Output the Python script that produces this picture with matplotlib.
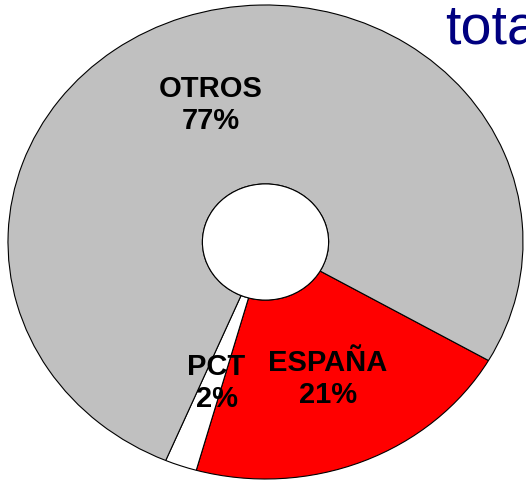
import matplotlib
matplotlib.use("Agg")
import matplotlib.pyplot as plt
from matplotlib.patches import Ellipse

plt.rcParams['font.family'] = ['Liberation Sans', 'DejaVu Sans']

# datos
categorias = ['ESPAÑA', 'PCT', 'OTROS']
porcentajes = [21, 2, 77]
colores = ['#FF0000', '#FFFFFF', '#C0C0C0']
titulo = 'total'

# posiciones de las etiquetas (coords de datos)
pos_etiquetas = [(0.243, -0.578), (-0.190, -0.595), (-0.212, 0.578)]

fig = plt.figure(figsize=(5.26, 4.83), dpi=100)
ax = fig.add_axes([8/526, 4/483, 515/526, 474/483])

hueco = 0.245
ax.pie(porcentajes, colors=colores, startangle=-30, counterclock=False,
       radius=1.0,
       wedgeprops=dict(width=1 - hueco, edgecolor='black', linewidth=0.8))
ax.add_patch(Ellipse((0, 0), 2*hueco, 2*hueco, facecolor='white',
                     edgecolor='black', linewidth=0.8, zorder=5))

for cat, pct, (x, y) in zip(categorias, porcentajes, pos_etiquetas):
    ax.text(x, y, '%s\n%d%%' % (cat, pct), ha='center', va='center',
            fontsize=21, fontweight='bold', color='black', linespacing=1.15,
            zorder=6)

ax.set_aspect('auto')
ax.set_xlim(-1, 1)
ax.set_ylim(-1, 1)
ax.axis('off')

# el titulo queda cortado en el borde, como en el original
fig.text(445/526, (483-43)/483, titulo, ha='left', va='baseline',
         fontsize=40, color='#000080')

fig.savefig('out.png', dpi=100)
